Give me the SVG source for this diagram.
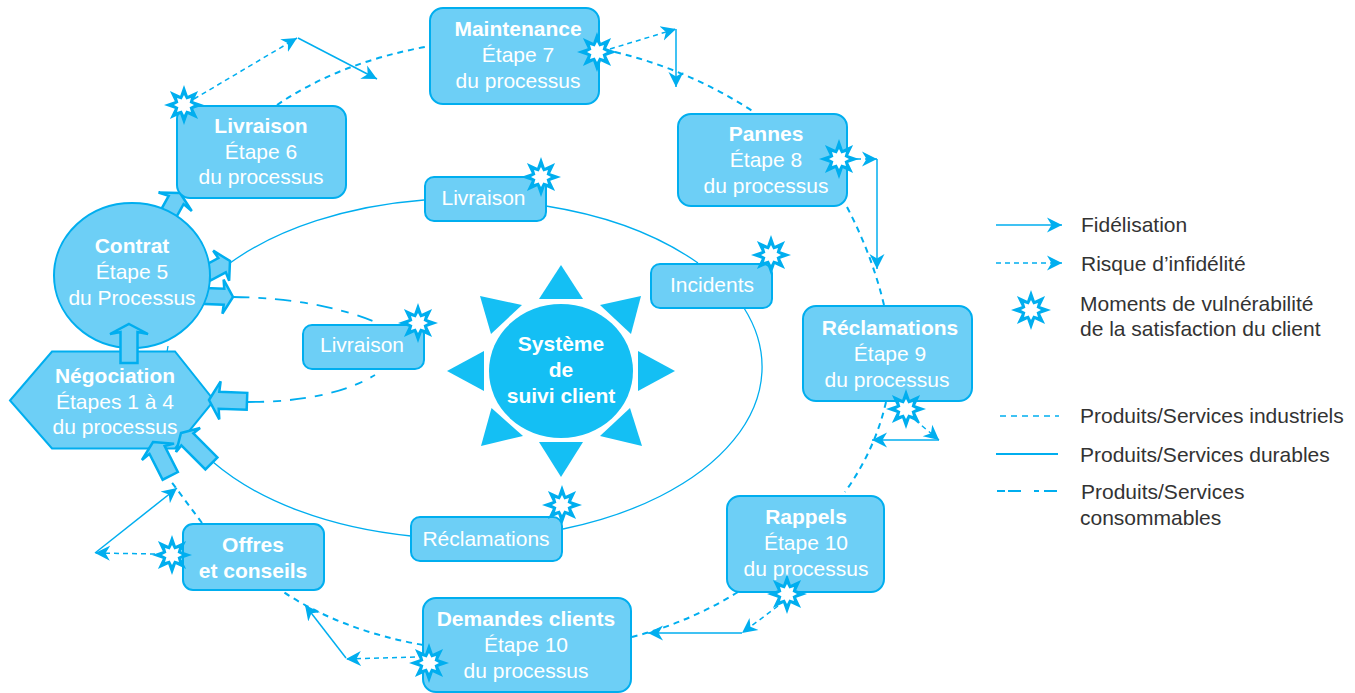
<svg xmlns="http://www.w3.org/2000/svg" xmlns:xlink="http://www.w3.org/1999/xlink" width="1355" height="693" viewBox="0 0 1355 693">
<style>
text{font-family:"Liberation Sans",Arial,sans-serif;font-size:21px}
.n text{fill:#fff;text-anchor:middle}
.b{font-weight:bold}
.box{fill:#6dcff6;stroke:#00aeef;stroke-width:2}
.blk{fill:#6dcff6;stroke:#00aeef;stroke-width:2.5}
.sun{fill:#14bff4}
.ln{fill:none;stroke:#00aeef}
.dur{stroke-width:1.3}
.ind{stroke-width:2;stroke-dasharray:6 5}
.con{stroke-width:1.8;stroke-dasharray:16 9 8 9}
.fid{stroke-width:1.5;marker-end:url(#ah)}
.ris{stroke-width:1.5;stroke-dasharray:5 4;marker-end:url(#ah)}
.lg{fill:#333}
</style>
<defs>
<marker id="ah" markerUnits="userSpaceOnUse" viewBox="-15 -9 16 18" refX="0" refY="0" markerWidth="16" markerHeight="18" orient="auto"><path d="M0,0 L-15,-7.5 L-10.5,0 L-15,7.5 z" fill="#00aeef"/></marker>
<g id="star"><polygon fill="#00aeef" points="0,-20 3.8,-9.2 14.1,-14.1 9.2,-3.8 20,0 9.2,3.8 14.1,14.1 3.8,9.2 0,20 -3.8,9.2 -14.1,14.1 -9.2,3.8 -20,0 -9.2,-3.8 -14.1,-14.1 -3.8,-9.2"/><polygon fill="#fff" points="0,-10 2.3,-5.6 7,-7 5.6,-2.3 10,0 5.6,2.3 7,7 2.3,5.6 0,10 -2.3,5.6 -7,7 -5.6,2.3 -10,0 -5.6,-2.3 -7,-7 -2.3,-5.6"/></g>
</defs>
<g id="connectors">
<path class="ln dur" d="M230,263 A299,172 0 0 1 424,200"/>
<path class="ln dur" d="M546,206 A299,172 0 0 1 698,263"/>
<path class="ln dur" d="M744,308 A299,172 0 0 1 563,529"/>
<path class="ln dur" d="M213,462 A299,172 0 0 0 411,536"/>
<path class="ln dur" d="M168,346 L167,352"/>
<path class="ln ind" d="M277,105 Q340,62 430,46"/>
<path class="ln ind" d="M615,52 Q690,70 754,112"/>
<path class="ln ind" d="M847,207 Q872,255 884,305"/>
<path class="ln ind" d="M886,402 Q875,450 845,492"/>
<path class="ln ind" d="M738,592 Q690,622 632,637"/>
<path class="ln ind" d="M423,645 Q340,630 282,591"/>
<path class="ln ind" d="M202,523 L170,480"/>
<path class="ln con" d="M233,297 Q320,298 380,324"/>
<path class="ln con" d="M248,402 Q330,402 375,375"/>
<path class="ln ris" d="M194,99 L297,38"/>
<path class="ln fid" d="M298,38 L377,79"/>
<path class="ln ris" d="M610,49 L676,29"/>
<path class="ln fid" d="M676,29 L676,87"/>
<path class="ln ris" d="M856,159 L877,159"/>
<path class="ln fid" d="M877,159 L877,269"/>
<path class="ln ris" d="M915,420 L939,440"/>
<path class="ln fid" d="M939,440 L872,440"/>
<path class="ln ris" d="M778,606 L742,633"/>
<path class="ln fid" d="M742,633 L648,633"/>
<path class="ln ris" d="M415,657 L346,659"/>
<path class="ln fid" d="M346,658 L305,605"/>
<path class="ln ris" d="M155,554 L95,553"/>
<path class="ln fid" d="M95,553 L177,488"/>
<polygon class="blk" transform="translate(180,193) rotate(29)" points="0,0 19,10 8.5,8 8.5,30 -8.5,30 -8.5,8 -19,10"/>
<polygon class="blk" transform="translate(230,261) rotate(62)" points="0,0 17,10 8,9 8,26 -8,26 -8,9 -17,10"/>
<polygon class="blk" transform="translate(233,297) rotate(92)" points="0,0 17,10 8,9 8,34 -8,34 -8,9 -17,10"/>
</g>
<g id="node-contrat" class="n"><ellipse class="box" cx="132" cy="275.500" rx="78" ry="72.500"/><text class="b" x="132" y="253">Contrat</text><text x="132" y="279">Étape 5</text><text x="132" y="305">du Processus</text></g>
<g id="node-negociation" class="n"><polygon class="box" points="10,400.500 52,351.500 175,351.500 214,400.500 175,448.500 52,448.500"/><text class="b" x="115" y="383">Négociation</text><text x="115" y="409">Étapes 1 à 4</text><text x="115" y="434">du processus</text></g>
<g id="node-livraison6" class="n"><rect class="box" x="177" y="106" width="169" height="92" rx="13"/><use xlink:href="#star" href="#star" x="184" y="105"/><text class="b" x="261" y="133">Livraison</text><text x="261" y="158.500">Étape 6</text><text x="261" y="184">du processus</text></g>
<g id="node-maintenance" class="n"><rect class="box" x="430" y="8" width="169" height="96" rx="13"/><use xlink:href="#star" href="#star" x="597" y="52"/><text class="b" x="518" y="36">Maintenance</text><text x="518" y="62">Étape 7</text><text x="518" y="88">du processus</text></g>
<g id="node-pannes" class="n"><rect class="box" x="678" y="114" width="169" height="92" rx="13"/><use xlink:href="#star" href="#star" x="839" y="159"/><text class="b" x="766" y="141">Pannes</text><text x="766" y="167">Étape 8</text><text x="766" y="193">du processus</text></g>
<g id="node-reclamations9" class="n"><rect class="box" x="803" y="306" width="169" height="95" rx="13"/><use xlink:href="#star" href="#star" x="906" y="409"/><text class="b" x="890" y="335">Réclamations</text><text x="890" y="361">Étape 9</text><text x="887" y="387">du processus</text></g>
<g id="node-rappels" class="n"><rect class="box" x="727" y="496" width="157" height="96" rx="13"/><text class="b" x="806" y="524">Rappels</text><text x="806" y="550">Étape 10</text><text x="806" y="576">du processus</text><use xlink:href="#star" href="#star" x="787" y="594"/></g>
<g id="node-demandes" class="n"><rect class="box" x="423" y="598" width="208" height="94" rx="13"/><use xlink:href="#star" href="#star" x="429" y="663"/><text class="b" x="526" y="626">Demandes clients</text><text x="526" y="652">Étape 10</text><text x="526" y="678">du processus</text></g>
<g id="node-offres" class="n"><rect class="box" x="183" y="524" width="141" height="66" rx="10"/><use xlink:href="#star" href="#star" x="172" y="555"/><text class="b" x="253" y="552">Offres</text><text class="b" x="253" y="578">et conseils</text></g>
<g id="node-inner-livraison" class="n"><rect class="box" x="425" y="177" width="121" height="44" rx="9"/><use xlink:href="#star" href="#star" x="541" y="177"/><text x="483.500" y="205">Livraison</text></g>
<g id="node-incidents" class="n"><rect class="box" x="651" y="264" width="121" height="44" rx="9"/><use xlink:href="#star" href="#star" x="771" y="255"/><text x="712" y="292">Incidents</text></g>
<g id="node-inner-livraison2" class="n"><rect class="box" x="303" y="325" width="121" height="44" rx="9"/><use xlink:href="#star" href="#star" x="418" y="323"/><text x="362" y="352">Livraison</text></g>
<g id="node-inner-reclamations" class="n"><rect class="box" x="411" y="517" width="151" height="44" rx="9"/><use xlink:href="#star" href="#star" x="562" y="505"/><text x="486" y="546">Réclamations</text></g>
<g id="node-systeme" class="n">
<ellipse class="sun" cx="561" cy="371" rx="72" ry="67"/>
<polygon class="sun" points="561,265 539,299 583,299"/>
<polygon class="sun" points="480,296 522,305 491,334"/>
<polygon class="sun" points="641,296 600,305 631,334"/>
<polygon class="sun" points="447,371 484,351 484,391"/>
<polygon class="sun" points="675,371 638,351 638,391"/>
<polygon class="sun" points="481,446 491.500,408 523,436"/>
<polygon class="sun" points="642,446 630,408 600,436"/>
<polygon class="sun" points="561,477 539,442 583,442"/>
<text class="b" x="561" y="351">Système</text><text class="b" x="561" y="377">de</text><text class="b" x="561" y="403">suivi client</text>
</g>
<g id="connectors-top">
<polygon class="blk" transform="translate(129,324) rotate(0)" points="0,0 19,10 8.500,8 8.500,39 -8.500,39 -8.500,8 -19,10"/>
<polygon class="blk" transform="translate(209,400) rotate(-88)" points="0,0 19,11 8.500,10 8.500,38 -8.500,38 -8.500,10 -19,11"/>
<polygon class="blk" transform="translate(181,433) rotate(-45)" points="0,0 17,10 8.500,9 8.500,43 -8.500,43 -8.500,9 -17,10"/>
<polygon class="blk" transform="translate(153,442) rotate(-27)" points="0,0 18,11 8.500,9 8.500,38 -8.500,38 -8.500,9 -18,11"/>
</g>
<g id="legend">
<path class="ln fid" d="M996,225 L1062,225"/>
<path class="ln ris" d="M996,263 L1062,263"/>
<use xlink:href="#star" href="#star" x="1031" y="310"/>
<path class="ln" stroke-width="1.500" stroke-dasharray="6 5" d="M1000,416 L1059,416"/>
<path class="ln" stroke-width="1.800" d="M996,454 L1058,454"/>
<path class="ln" stroke-width="1.800" stroke-dasharray="8 3 13 13 5 5 13" d="M997,491 L1058,491"/>
<text class="lg" x="1081" y="232">Fidélisation</text>
<text class="lg" x="1081" y="271">Risque d’infidélité</text>
<text class="lg" x="1080" y="311">Moments de vulnérabilité</text>
<text class="lg" x="1080" y="336">de la satisfaction du client</text>
<text class="lg" x="1080" y="423">Produits/Services industriels</text>
<text class="lg" x="1080" y="462">Produits/Services durables</text>
<text class="lg" x="1081" y="499">Produits/Services</text>
<text class="lg" x="1080" y="525">consommables</text>
</g>
</svg>
